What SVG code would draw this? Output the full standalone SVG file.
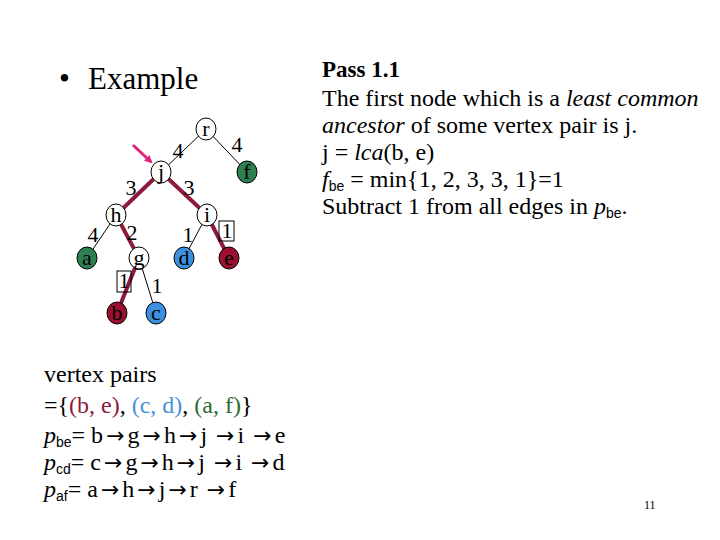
<svg xmlns="http://www.w3.org/2000/svg" width="720" height="540" viewBox="0 0 720 540">
<style>
.t{font-family:"Liberation Serif","Times New Roman",serif;fill:#000}
.s{font-family:"Liberation Sans",Arial,sans-serif}
.ar{font-family:"DejaVu Sans",sans-serif;font-size:22px;letter-spacing:3px}
.n{stroke:#000;stroke-width:1}
.thin{stroke:#000;stroke-width:1}
.thick{stroke:#8b1a3c;stroke-width:4}
.nl{font-family:"Liberation Serif","Times New Roman",serif;font-size:22px;text-anchor:middle}
.el{font-family:"Liberation Serif","Times New Roman",serif;font-size:22px;text-anchor:middle}
</style>
<defs>
<marker id="ah" markerWidth="8" markerHeight="8" refX="6" refY="4" orient="auto" markerUnits="userSpaceOnUse">
<path d="M0,0 L8,4 L0,8 Z" fill="#e0257a"/>
</marker>
</defs>
<rect width="720" height="540" fill="#fff"/>
<text class="t" x="59" y="89" font-size="31">•</text>
<text class="t" x="88" y="89" font-size="31">Example</text>

<g id="connectors">
<line class="thin" x1="206" y1="129" x2="161" y2="172"/>
<line class="thin" x1="206" y1="129" x2="247" y2="172"/>
<line class="thick" x1="161" y1="172" x2="116" y2="215"/>
<line class="thick" x1="161" y1="172" x2="207" y2="215"/>
<line class="thin" x1="116" y1="215" x2="87" y2="258"/>
<line class="thick" x1="116" y1="215" x2="139" y2="258"/>
<line class="thin" x1="207" y1="215" x2="184" y2="258"/>
<line class="thick" x1="207" y1="215" x2="229" y2="258"/>
<line class="thick" x1="139" y1="258" x2="117" y2="313"/>
<line class="thin" x1="139" y1="258" x2="156" y2="313"/>
<line x1="133" y1="145" x2="151" y2="162" stroke="#e0257a" stroke-width="3" marker-end="url(#ah)"/>
</g>

<g id="edge-labels">
<text class="el" x="178" y="158">4</text>
<text class="el" x="237" y="152">4</text>
<text class="el" x="131" y="195">3</text>
<text class="el" x="189" y="195">3</text>
<text class="el" x="93" y="242">4</text>
<text class="el" x="132" y="240">2</text>
<text class="el" x="188" y="242">1</text>
<rect x="219" y="221" width="15" height="20" fill="none" stroke="#000" stroke-width="1"/>
<text class="el" x="227" y="238">1</text>
<rect x="117" y="271" width="14" height="21" fill="none" stroke="#000" stroke-width="1"/>
<text class="el" x="124" y="288">1</text>
<text class="el" x="157" y="293">1</text>
</g>

<g id="node-r"><ellipse class="n" cx="206" cy="129" rx="10" ry="11" fill="#fff"/><text class="nl" x="206" y="136">r</text></g>
<g id="node-j"><ellipse class="n" cx="161" cy="172" rx="10" ry="11" fill="#fff"/><text class="nl" x="161" y="179">j</text></g>
<g id="node-f"><ellipse class="n" cx="247" cy="172" rx="10" ry="11" fill="#2e8050"/><text class="nl" x="247" y="179">f</text></g>
<g id="node-h"><ellipse class="n" cx="116" cy="215" rx="10" ry="11" fill="#fff"/><text class="nl" x="116" y="222">h</text></g>
<g id="node-i"><ellipse class="n" cx="207" cy="215" rx="10" ry="11" fill="#fff"/><text class="nl" x="207" y="222">i</text></g>
<g id="node-a"><ellipse class="n" cx="87" cy="258" rx="10" ry="11" fill="#2e8050"/><text class="nl" x="87" y="265">a</text></g>
<g id="node-g"><ellipse class="n" cx="139" cy="258" rx="10" ry="11" fill="#fff"/><text class="nl" x="139" y="265">g</text></g>
<g id="node-d"><ellipse class="n" cx="184" cy="258" rx="10" ry="11" fill="#3d8fe0"/><text class="nl" x="184" y="265">d</text></g>
<g id="node-e"><ellipse class="n" cx="229" cy="258" rx="10" ry="11" fill="#9b1030"/><text class="nl" x="229" y="265">e</text></g>
<g id="node-b"><ellipse class="n" cx="117" cy="313" rx="10" ry="11" fill="#9b1030"/><text class="nl" x="117" y="320">b</text></g>
<g id="node-c"><ellipse class="n" cx="156" cy="313" rx="10" ry="11" fill="#3d8fe0"/><text class="nl" x="156" y="320">c</text></g>

<g id="right-text" class="t" font-size="24">
<text x="322" y="77" font-weight="bold" font-size="23">Pass 1.1</text>
<text x="322" y="106">The first node which is a <tspan font-style="italic">least common</tspan></text>
<text x="322" y="133"><tspan font-style="italic">ancestor</tspan> of some vertex pair is j.</text>
<text x="322" y="160">j = <tspan font-style="italic">lca</tspan>(b, e)</text>
<text x="322" y="187"><tspan font-style="italic">f</tspan><tspan class="s" font-size="14" dy="4">be</tspan><tspan dy="-4"> = min{1, 2, 3, 3, 1}=1</tspan></text>
<text x="322" y="214">Subtract 1 from all edges in <tspan font-style="italic">p</tspan><tspan class="s" font-size="14" dy="4">be</tspan><tspan dy="-4">.</tspan></text>
</g>

<g id="bottom-text" class="t" font-size="24">
<text x="44" y="382">vertex pairs</text>
<text x="44" y="413">={<tspan fill="#8b1a3c">(b, e)</tspan>, <tspan fill="#4a90d9">(c, d)</tspan>, <tspan fill="#2e6b2e">(a, f)</tspan>}</text>
<text x="44" y="443"><tspan font-style="italic">p</tspan><tspan class="s" font-size="14" dy="4">be</tspan><tspan dy="-4">= b</tspan><tspan class="ar" dx="3">→</tspan>g<tspan class="ar" dx="3">→</tspan>h<tspan class="ar" dx="3">→</tspan>j <tspan class="ar" dx="3">→</tspan>i <tspan class="ar" dx="3">→</tspan>e</text>
<text x="44" y="470"><tspan font-style="italic">p</tspan><tspan class="s" font-size="14" dy="4">cd</tspan><tspan dy="-4">= c</tspan><tspan class="ar" dx="3">→</tspan>g<tspan class="ar" dx="3">→</tspan>h<tspan class="ar" dx="3">→</tspan>j <tspan class="ar" dx="3">→</tspan>i <tspan class="ar" dx="3">→</tspan>d</text>
<text x="44" y="497"><tspan font-style="italic">p</tspan><tspan class="s" font-size="14" dy="4">af</tspan><tspan dy="-4">= a</tspan><tspan class="ar" dx="3">→</tspan>h<tspan class="ar" dx="3">→</tspan>j<tspan class="ar" dx="3">→</tspan>r <tspan class="ar" dx="3">→</tspan>f</text>
</g>

<text class="t" x="644" y="509" font-size="12">11</text>
</svg>
